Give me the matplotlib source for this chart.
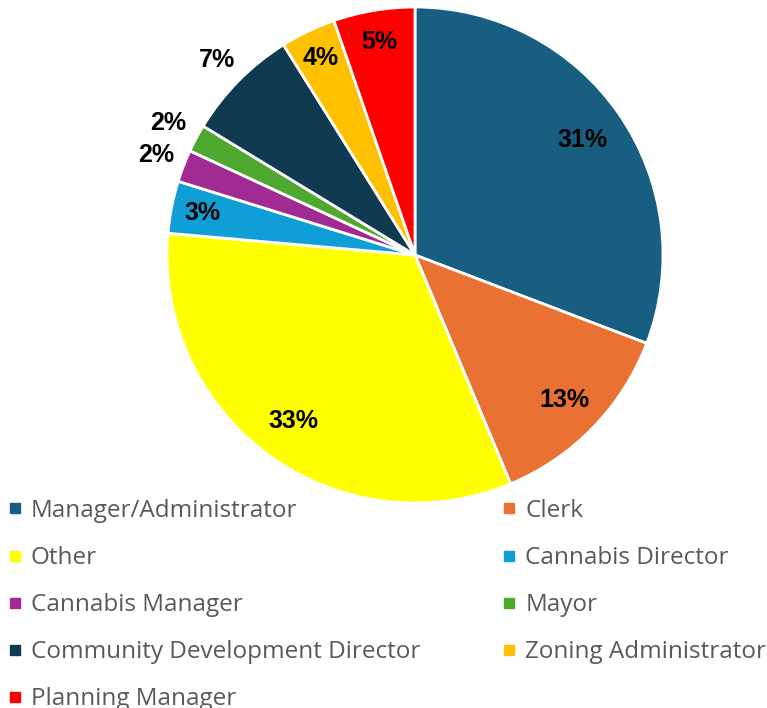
import matplotlib
matplotlib.use("Agg")
import matplotlib.pyplot as plt
from matplotlib.lines import Line2D
import numpy as np

categories = ["Manager/Administrator", "Clerk", "Other", "Cannabis Director",
              "Cannabis Manager", "Mayor", "Community Development Director",
              "Zoning Administrator", "Planning Manager"]
values = [30.8, 12.9, 32.7, 3.4, 2.1, 1.8, 7.4, 3.6, 5.3]
colors = ["#175E81", "#E97132", "#FFFF00", "#0F9ED5", "#A02B93",
          "#4EA72E", "#0F3A50", "#FFC000", "#FF0000"]
# radial placement of each percentage label (fraction of the radius)
label_dist = [0.82, 0.84, 0.83, 0.875, 1.12, 1.13, 1.12, 0.88, 0.87]

W, H = 767, 708
fig = plt.figure(figsize=(W / 100, H / 100), dpi=100)
cx, cy, R = 415, 255, 248
ax = fig.add_axes([(cx - R) / W, (H - cy - R) / H, 2 * R / W, 2 * R / H])

wedges, _ = ax.pie(values, colors=colors, startangle=90, counterclock=False,
                   radius=1.0, wedgeprops=dict(edgecolor="white", linewidth=2.0))
ax.set_xlim(-1, 1)
ax.set_ylim(-1, 1)
ax.set_aspect("equal")
ax.axis("off")

total = sum(values)
for w, v, d in zip(wedges, values, label_dist):
    ang = np.deg2rad((w.theta1 + w.theta2) / 2)
    ax.text(d * np.cos(ang), d * np.sin(ang), f"{round(100 * v / total):d}%",
            ha="center", va="center", fontsize=18, fontweight="bold",
            family="Liberation Sans", color="black")

handles = [Line2D([], [], marker="s", linestyle="none", markersize=7.5,
                  markerfacecolor=c, markeredgecolor=c) for c in colors]
order = [0, 2, 4, 6, 8, 1, 3, 5, 7]
leg = fig.legend([handles[i] for i in order], [categories[i] for i in order],
                 ncol=2, loc="upper left", bbox_to_anchor=(6 / W, 1 - 499 / H),
                 frameon=False, borderpad=0, borderaxespad=0,
                 handlelength=0.7, handletextpad=0.32, labelspacing=0.95,
                 columnspacing=3.3,
                 prop=dict(family="Open Sans", size=17.5))
for t in leg.get_texts():
    t.set_color("#595959")

fig.savefig("out.png", dpi=100)
